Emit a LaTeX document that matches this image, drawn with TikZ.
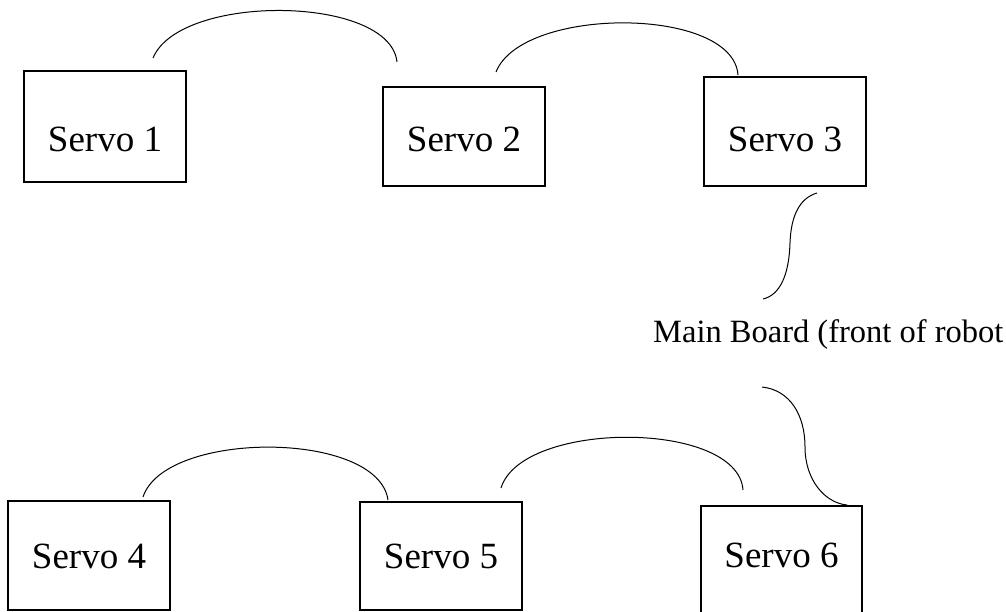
\documentclass[tikz,border=0pt]{standalone}
\usepackage{fontspec}
\setmainfont{Liberation Serif}

\tikzset{
  servo/.style={draw, line width=2pt, minimum width=162pt, inner sep=0pt, text depth=0pt, font=\fontsize{37}{40}\selectfont},
  wire/.style={line width=1pt}
}

\begin{document}
\begin{tikzpicture}[x=1pt, y=-1pt]
\useasboundingbox (0,0) rectangle (1006,612);
%%%%% Servos %%%%%
\node[servo, minimum height=111pt, text height=51pt] (s1) at (105,126.5) {Servo 1};
\node[servo, minimum height=99pt, text height=31pt] (s2) at (464,136.5) {Servo 2};
\node[servo, minimum height=109pt, text height=41pt] (s3) at (785,131.5) {Servo 3};
\node[servo, minimum height=109pt, text height=25pt] (s4) at (89,555.5) {Servo 4};
\node[servo, minimum height=108pt, text height=24pt] (s5) at (441,556) {Servo 5};
\node[servo, minimum width=161pt, minimum height=110pt, text height=12pt] (s6) at (781.5,561) {Servo 6};
%%%%% Board %%%%%
\node[anchor=base west, inner sep=0pt, font=\fontsize{32.5}{36}\selectfont] (mb) at (653,342) {Main Board (front of robot};
%%%%% Wire ends %%%%%
\coordinate (w1a) at (153,58);  \coordinate (w1b) at (397,62);
\coordinate (w2a) at (496,72);  \coordinate (w2b) at (738,75);
\coordinate (w3a) at (817,193); \coordinate (w3b) at (763,299);
\coordinate (w4a) at (143,497); \coordinate (w4b) at (388,500);
\coordinate (w5a) at (501,488); \coordinate (w5b) at (743,490);
\coordinate (w6a) at (762,387); \coordinate (w6b) at (847,505);
%%%%% Wires %%%%%
\draw[wire] (w1a) .. controls (180,-7) and (390,-5) .. (w1b);
\draw[wire] (w2a) .. controls (522,6) and (733,6) .. (w2b);
\draw[wire] (w3a) .. controls (800,198) and (791,215) .. (790,243)
                  .. controls (789,275) and (780,295) .. (w3b);
\draw[wire] (w4a) .. controls (165,430) and (378,430) .. (w4b);
\draw[wire] (w5a) .. controls (522,420) and (738,420) .. (w5b);
\draw[wire] (w6a) .. controls (790,390) and (805,415) .. (805,447)
                  .. controls (805,480) and (825,503) .. (w6b);
\end{tikzpicture}
\end{document}
